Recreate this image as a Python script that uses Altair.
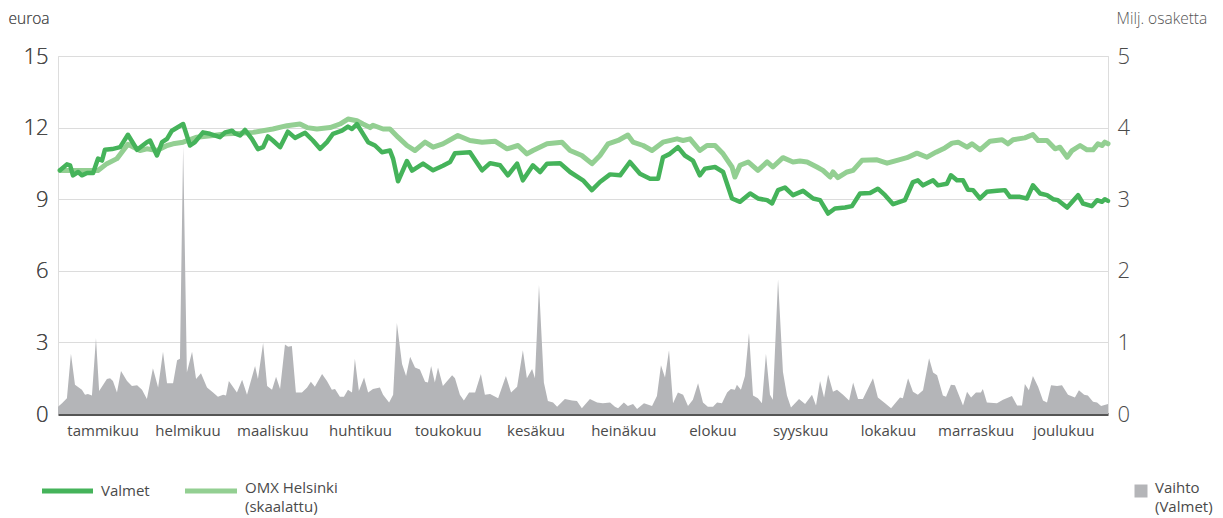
import altair as alt
import pandas as pd

months = ["tammikuu", "helmikuu", "maaliskuu", "huhtikuu", "toukokuu", "kesäkuu",
          "heinäkuu", "elokuu", "syyskuu", "lokakuu", "marraskuu", "joulukuu"]
month_mid_day = [15.5, 45, 74.5, 105, 135.5, 166, 196.5, 227.5, 258, 288.5, 319, 349.5]

valmet_day = [0.7, 3.1, 4.2, 5.2, 7.0, 8.3, 10.1, 12.2, 13.9, 15.3, 16.3, 18.8, 21.6, 24.3, 27.5,
              30.9, 32.0, 34.4, 36.2, 37.9, 39.6, 43.5, 45.9, 47.6, 50.4, 52.8, 56.3, 58.1, 60.5,
              61.5, 63.3, 65.0, 67.4, 69.5, 71.3, 73.0, 74.7, 77.2, 79.9, 82.4, 85.9, 88.6, 91.1,
              93.5, 95.6, 98.7, 100.8, 102.2, 103.9, 105.7, 107.8, 110.2, 112.6, 115.4, 116.5,
              118.2, 121.3, 123.1, 126.9, 130.4, 133.8, 136.3, 138.0, 143.2, 147.4, 150.2, 153.7,
              156.4, 159.6, 161.6, 165.1, 167.6, 170.0, 174.5, 178.0, 182.5, 185.6, 188.4, 191.9,
              195.4, 198.8, 202.3, 205.8, 208.6, 210.3, 212.7, 215.5, 217.9, 220.7, 223.1, 224.9,
              228.4, 231.2, 234.3, 237.1, 240.6, 243.3, 246.5, 248.2, 250.3, 252.7, 255.5, 259.0,
              262.5, 264.9, 267.7, 270.1, 273.6, 276.0, 278.8, 282.3, 285.0, 287.5, 290.3, 294.4,
              297.2, 298.9, 300.7, 304.2, 305.9, 309.0, 310.4, 312.5, 314.6, 316.3, 318.1, 320.5,
              322.9, 326.4, 329.2, 330.9, 334.4, 336.8, 338.9, 341.4, 343.8, 345.9, 347.6, 350.8,
              354.6, 356.3, 359.4, 361.2, 362.9, 363.9, 365.0]
valmet_eur = [10.21, 10.46, 10.42, 10.0, 10.14, 10.0, 10.1, 10.1, 10.7, 10.62, 11.07, 11.1, 11.18,
              11.7, 11.07, 11.39, 11.46, 10.83, 11.39, 11.53, 11.87, 12.15, 11.25, 11.39, 11.8,
              11.74, 11.6, 11.8, 11.87, 11.76, 11.67, 11.9, 11.53, 11.1, 11.18, 11.63, 11.46,
              11.18, 11.83, 11.57, 11.78, 11.46, 11.11, 11.39, 11.74, 11.87, 12.04, 11.94, 12.15,
              11.8, 11.39, 11.25, 10.97, 11.04, 10.69, 9.75, 10.6, 10.2, 10.49, 10.21, 10.4, 10.56,
              10.93, 10.97, 10.21, 10.51, 10.42, 10.0, 10.49, 9.79, 10.42, 10.14, 10.49, 10.51,
              10.14, 9.79, 9.38, 9.72, 10.04, 10.0, 10.56, 10.07, 9.86, 9.86, 10.76, 10.9, 11.18,
              10.83, 10.62, 10.0, 10.28, 10.35, 10.14, 9.03, 8.89, 9.24, 9.03, 8.96, 8.82, 9.38,
              9.49, 9.17, 9.35, 9.03, 8.96, 8.4, 8.61, 8.65, 8.71, 9.24, 9.26, 9.44, 9.17, 8.79,
              8.96, 9.72, 9.79, 9.58, 9.79, 9.58, 9.65, 10.0, 9.79, 9.79, 9.4, 9.38, 9.03, 9.31,
              9.35, 9.38, 9.1, 9.1, 9.03, 9.58, 9.24, 9.17, 9.0, 8.96, 8.65, 9.17, 8.82, 8.71,
              8.96, 8.89, 9.0, 8.93]

omx_day = [0.7, 5.2, 11.1, 13.9, 17.0, 20.5, 24.3, 28.5, 30.9, 34.4, 37.9, 40.0, 43.5, 48.3, 53.9,
           58.7, 63.3, 67.8, 74.7, 79.6, 84.1, 86.6, 90.0, 94.6, 98.0, 100.8, 103.9, 106.0, 108.5,
           109.5, 113.0, 115.4, 118.2, 121.3, 124.1, 127.6, 130.4, 133.8, 139.0, 143.2, 147.4,
           151.9, 156.1, 159.9, 163.0, 165.1, 170.0, 175.2, 178.0, 182.1, 185.6, 188.4, 191.2,
           194.7, 198.1, 199.9, 203.4, 206.5, 210.3, 215.2, 217.3, 219.7, 223.1, 225.6, 228.4,
           231.2, 234.3, 235.3, 237.1, 239.9, 243.3, 246.5, 248.5, 252.0, 255.5, 257.9, 260.4,
           263.8, 265.9, 268.4, 269.4, 271.1, 274.3, 276.4, 279.5, 284.7, 288.2, 291.7, 295.1,
           298.6, 302.1, 305.2, 308.3, 310.8, 312.9, 316.0, 317.7, 320.5, 324.0, 328.2, 330.2,
           332.0, 336.1, 338.9, 340.7, 343.8, 346.6, 348.3, 350.8, 352.5, 355.3, 357.7, 359.8,
           361.5, 362.9, 363.9, 365.0]
omx_eur = [10.2, 10.2, 10.2, 10.2, 10.49, 10.7, 11.3, 11.04, 11.11, 11.04, 11.25, 11.32, 11.39,
           11.6, 11.67, 11.74, 11.76, 11.8, 11.94, 12.08, 12.15, 12.0, 11.94, 12.0, 12.15, 12.36,
           12.29, 12.15, 12.0, 12.1, 11.94, 11.94, 11.6, 11.25, 11.04, 11.39, 11.18, 11.32, 11.67,
           11.46, 11.39, 11.43, 11.11, 11.25, 10.9, 11.04, 11.32, 11.39, 11.04, 10.83, 10.49,
           10.83, 11.32, 11.46, 11.69, 11.39, 11.25, 11.04, 11.39, 11.53, 11.46, 11.53, 11.04,
           11.25, 11.25, 10.9, 10.35, 9.93, 10.42, 10.56, 10.21, 10.56, 10.35, 10.74, 10.56, 10.6,
           10.56, 10.35, 10.21, 9.93, 10.14, 9.9, 10.14, 10.21, 10.63, 10.65, 10.51, 10.63, 10.74,
           10.93, 10.76, 10.97, 11.15, 11.35, 11.39, 11.18, 11.32, 11.07, 11.43, 11.49, 11.32,
           11.49, 11.57, 11.71, 11.46, 11.46, 11.11, 11.18, 10.76, 11.04, 11.25, 11.07, 11.07,
           11.32, 11.25, 11.39, 11.32]

vol_day = [0.0, 1.4, 3.1, 4.5, 5.9, 8.3, 9.4, 10.4, 11.8, 13.2, 14.3, 17.0, 18.1, 19.1, 20.5, 21.9,
           24.0, 25.7, 27.5, 29.2, 30.9, 33.0, 34.8, 36.5, 37.9, 40.0, 41.4, 42.4, 43.5, 44.8,
           46.6, 48.0, 49.7, 51.8, 53.9, 55.6, 57.4, 58.4, 59.4, 62.2, 64.0, 65.7, 68.5, 69.5,
           71.3, 72.7, 74.4, 75.8, 77.2, 78.9, 80.0, 81.3, 82.7, 84.8, 86.6, 87.9, 89.3, 91.8,
           93.5, 95.2, 96.3, 98.0, 99.4, 100.8, 102.2, 103.2, 104.6, 106.4, 107.8, 109.5, 111.9,
           113.0, 115.1, 116.5, 117.8, 119.6, 121.0, 122.4, 124.1, 125.8, 127.6, 128.6, 129.7,
           131.0, 132.1, 133.8, 137.0, 138.0, 139.7, 141.1, 142.9, 145.0, 147.0, 148.4, 150.2,
           153.0, 155.7, 157.5, 159.6, 161.6, 163.0, 164.8, 165.8, 167.2, 168.9, 170.3, 172.1,
           173.5, 176.2, 178.7, 180.4, 182.1, 184.9, 187.4, 189.4, 191.9, 193.6, 194.7, 196.7,
           198.1, 199.9, 201.3, 203.7, 206.5, 208.2, 209.6, 211.0, 212.4, 213.8, 215.5, 217.3,
           219.0, 220.7, 222.5, 224.2, 225.9, 227.7, 229.1, 230.8, 232.6, 233.9, 235.3, 236.0,
           237.4, 238.8, 240.2, 241.6, 243.3, 244.7, 246.1, 247.5, 248.5, 250.3, 252.0, 253.4,
           254.8, 257.6, 259.7, 262.1, 263.5, 264.9, 266.3, 267.7, 269.4, 270.8, 272.9, 275.0,
           276.4, 278.1, 279.8, 283.3, 285.0, 287.5, 289.6, 292.7, 293.7, 295.5, 297.2, 298.9,
           300.7, 302.8, 304.2, 305.6, 307.6, 308.7, 310.4, 311.8, 314.6, 316.0, 317.4, 319.1,
           320.8, 321.5, 322.9, 326.4, 328.5, 331.6, 333.4, 335.1, 336.1, 337.5, 338.9, 340.7,
           342.4, 343.8, 345.2, 347.3, 349.0, 351.1, 353.5, 354.9, 356.7, 358.0, 359.8, 361.2,
           362.6, 365.0]
vol_milj = [0.1, 0.15, 0.22, 0.84, 0.41, 0.34, 0.27, 0.28, 0.26, 1.06, 0.32, 0.49, 0.5, 0.46, 0.3,
            0.6, 0.46, 0.39, 0.4, 0.34, 0.21, 0.64, 0.37, 0.87, 0.43, 0.43, 0.75, 0.77, 3.74, 0.58,
            0.87, 0.49, 0.57, 0.37, 0.3, 0.24, 0.27, 0.26, 0.46, 0.3, 0.48, 0.27, 0.67, 0.49, 0.99,
            0.39, 0.34, 0.52, 0.35, 0.97, 0.94, 0.95, 0.3, 0.3, 0.37, 0.45, 0.38, 0.56, 0.46, 0.34,
            0.35, 0.24, 0.24, 0.34, 0.3, 0.77, 0.32, 0.51, 0.3, 0.35, 0.37, 0.27, 0.16, 0.27, 1.27,
            0.7, 0.53, 0.8, 0.65, 0.62, 0.45, 0.44, 0.67, 0.44, 0.65, 0.39, 0.54, 0.5, 0.27, 0.19,
            0.3, 0.3, 0.56, 0.27, 0.28, 0.22, 0.53, 0.3, 0.38, 0.89, 0.5, 0.63, 0.5, 1.8, 0.44,
            0.18, 0.16, 0.1, 0.21, 0.19, 0.18, 0.08, 0.21, 0.16, 0.15, 0.16, 0.1, 0.08, 0.16, 0.11,
            0.14, 0.07, 0.15, 0.11, 0.25, 0.68, 0.51, 0.89, 0.15, 0.3, 0.27, 0.11, 0.2, 0.43, 0.16,
            0.1, 0.1, 0.16, 0.15, 0.3, 0.35, 0.34, 0.41, 0.34, 0.53, 1.13, 0.26, 0.22, 0.15, 0.84,
            0.27, 0.2, 1.88, 0.59, 0.26, 0.09, 0.21, 0.14, 0.27, 0.12, 0.46, 0.23, 0.55, 0.31,
            0.34, 0.27, 0.19, 0.44, 0.21, 0.21, 0.5, 0.23, 0.15, 0.08, 0.23, 0.22, 0.5, 0.31, 0.27,
            0.33, 0.78, 0.58, 0.54, 0.26, 0.24, 0.41, 0.4, 0.12, 0.31, 0.23, 0.3, 0.3, 0.35, 0.16,
            0.15, 0.2, 0.25, 0.12, 0.12, 0.42, 0.33, 0.53, 0.38, 0.19, 0.16, 0.4, 0.39, 0.4, 0.27,
            0.23, 0.33, 0.27, 0.26, 0.17, 0.16, 0.11, 0.14]

legend_valmet = "Valmet"
legend_omx = "OMX Helsinki\n(skaalattu)"
legend_volume = "Vaihto\n(Valmet)"

VALMET_GREEN = "#45b35a"
OMX_GREEN = "#93cf92"
VOL_GRAY = "#b4b5b8"
FONT = "Open Sans"
TXT = "#4a4a4a"

valmet_df = pd.DataFrame({"day": valmet_day, "eur": valmet_eur})
omx_df = pd.DataFrame({"day": omx_day, "eur": omx_eur})
vol_df = pd.DataFrame({"day": vol_day, "milj": vol_milj})
one = pd.DataFrame({"k": [0]})

label_expr = "[" + ",".join(f"'{m}'" for m in months) + "][floor(datum.value / 30.44)]"

x_enc = alt.X(
    "day:Q",
    scale=alt.Scale(domain=[0, 365], nice=False, zero=False),
    axis=alt.Axis(
        values=month_mid_day, labelExpr=label_expr, title=None, grid=False,
        ticks=False, domain=True, domainColor="#555555", domainWidth=3,
        labelFontSize=15, labelColor=TXT, labelFont=FONT, labelPadding=9,
        labelFlush=False,
    ),
)

area = alt.Chart(vol_df).mark_area(interpolate="linear", color=VOL_GRAY).encode(
    x=x_enc,
    y=alt.Y(
        "milj:Q",
        scale=alt.Scale(domain=[0, 5], nice=False),
        axis=alt.Axis(
            orient="right", values=[0, 1, 2, 3, 4, 5], grid=False, ticks=False, domain=False,
            labelFontSize=22, labelColor=TXT, labelFont=FONT, labelFontWeight=300,
            labelPadding=9, labelBaseline="middle",
            title="Milj. osaketta", titleAngle=0, titleAlign="left", titleX=8, titleY=-33,
            titleBaseline="alphabetic", titleFontSize=15.5, titleFontWeight=300,
            titleColor="#555555", titleFont=FONT,
        ),
    ),
)

y_left = alt.Y(
    "eur:Q",
    scale=alt.Scale(domain=[0, 15], nice=False),
    axis=alt.Axis(
        orient="left", values=[0, 3, 6, 9, 12, 15], grid=True, gridColor="#dcdcdc",
        gridWidth=1, ticks=False, domain=False,
        labelFontSize=22, labelColor=TXT, labelFont=FONT, labelFontWeight=300,
        labelPadding=10, labelBaseline="middle",
        title="euroa", titleAngle=0, titleAlign="left", titleX=-50, titleY=-33,
        titleBaseline="alphabetic", titleFontSize=15.5, titleFontWeight=300,
        titleColor="#555555", titleFont=FONT,
    ),
)

omx_line = alt.Chart(omx_df).mark_line(
    strokeWidth=5, strokeJoin="round", strokeCap="round", color=OMX_GREEN
).encode(x=x_enc, y=y_left)

valmet_line = alt.Chart(valmet_df).mark_line(
    strokeWidth=4.5, strokeJoin="round", strokeCap="round", color=VALMET_GREEN
).encode(x=x_enc, y=y_left)

# legend (drawn below the plot area)
LEG_Y = 435
leg_valmet_sym = alt.Chart(one).mark_rule(color=VALMET_GREEN, strokeWidth=5).encode(
    x=alt.value(-16), x2=alt.value(35), y=alt.value(LEG_Y))
leg_valmet_txt = alt.Chart(one).mark_text(
    align="left", baseline="middle", fontSize=15, font=FONT, color=TXT
).encode(x=alt.value(43), y=alt.value(LEG_Y), text=alt.value(legend_valmet))
leg_omx_sym = alt.Chart(one).mark_rule(color=OMX_GREEN, strokeWidth=5).encode(
    x=alt.value(127), x2=alt.value(179), y=alt.value(LEG_Y))
leg_omx_txt = alt.Chart(one).mark_text(
    align="left", baseline="top", fontSize=15, font=FONT, color=TXT,
    lineBreak="\n", lineHeight=19,
).encode(x=alt.value(187), y=alt.value(LEG_Y - 10), text=alt.value(legend_omx))
leg_vol_sym = alt.Chart(one).mark_square(color=VOL_GRAY, size=169, opacity=1).encode(
    x=alt.value(1083), y=alt.value(LEG_Y))
leg_vol_txt = alt.Chart(one).mark_text(
    align="left", baseline="top", fontSize=15, font=FONT, color=TXT,
    lineBreak="\n", lineHeight=19,
).encode(x=alt.value(1097), y=alt.value(LEG_Y - 10), text=alt.value(legend_volume))

chart = alt.layer(
    area, omx_line, valmet_line,
    leg_valmet_sym, leg_valmet_txt, leg_omx_sym, leg_omx_txt, leg_vol_sym, leg_vol_txt,
).resolve_scale(
    y="independent"
).properties(
    width=1050, height=358,
    autosize=alt.AutoSizeParams(type="none"),
    padding={"left": 50, "top": 48, "right": 107, "bottom": 104},
).configure_view(stroke=None).configure(background="white")

chart.save("out.html", embed_options={"renderer": "svg", "actions": False})
